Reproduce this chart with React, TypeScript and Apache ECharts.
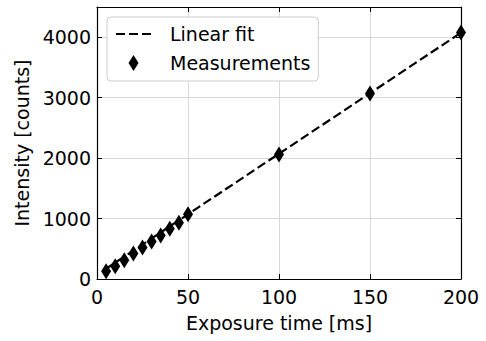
import { useEffect, useRef } from "react";
import * as echarts from "echarts";

const exposureMs = [5, 10, 15, 20, 25, 30, 35, 40, 45, 50, 100, 150, 200];
const intensity = [130, 210, 310, 420, 520, 620, 720, 830, 930, 1070, 2060, 3070, 4080];
const fitX = [5, 200];
const fitY = [170, 4075];
const xMin = 0;
const xMax = 200;
const xStep = 50;
const yMin = 0;
const yMax = 4500;
const yStep = 1000;

const FONT = "DejaVu Sans";

export default function App() {
  const ref = useRef<HTMLDivElement>(null);
  useEffect(() => {
    if (!ref.current) return;
    const chart = echarts.init(ref.current, undefined, { renderer: "svg" });
    const axisLine = { show: true, onZero: false, lineStyle: { color: "#000", width: 1.2 } };
    const tick = { show: true, inside: true, length: 5, lineStyle: { color: "#000", width: 1 } };
    const label = { color: "#000", fontFamily: FONT, fontSize: 19 };
    chart.setOption({
      animation: false,
      backgroundColor: "#fff",
      textStyle: { fontFamily: FONT },
      grid: { left: 97, right: 25, top: 7, bottom: 62, containLabel: false },
      legend: {
        left: 107,
        top: 17,
        orient: "vertical",
        padding: [6, 8, 7, 8],
        itemGap: 7,
        itemWidth: 35,
        itemHeight: 16,
        backgroundColor: "#fff",
        borderColor: "#cccccc",
        borderWidth: 1,
        borderRadius: 4,
        symbolKeepAspect: true,
        textStyle: { color: "#000", fontFamily: FONT, fontSize: 19, lineHeight: 22, padding: [0, 0, 0, 14] },
        data: [
          { name: "Linear fit", itemStyle: { opacity: 0 } },
          { name: "Measurements", icon: "path://M5 0 L10 8 L5 16 L0 8 Z", itemStyle: { color: "#000", opacity: 1 } },
        ],
      },
      xAxis: [
        {
          type: "value",
          min: xMin,
          max: xMax,
          interval: xStep,
          name: "Exposure time [ms]",
          nameLocation: "middle",
          nameGap: 34,
          nameTextStyle: label,
          axisLine,
          axisTick: tick,
          axisLabel: { ...label, margin: 8 },
          splitLine: { show: true, lineStyle: { color: "#d9d9d9", width: 1 } },
        },
        {
          type: "value",
          position: "top",
          min: xMin,
          max: xMax,
          interval: xStep,
          axisLine,
          axisTick: tick,
          axisLabel: { show: false },
          splitLine: { show: false },
        },
      ],
      yAxis: [
        {
          type: "value",
          min: yMin,
          max: yMax,
          interval: yStep,
          name: "Intensity [counts]",
          nameLocation: "middle",
          nameGap: 55,
          nameTextStyle: label,
          axisLine,
          axisTick: tick,
          axisLabel: { ...label, margin: 6, showMaxLabel: false, formatter: (v: number) => String(v) },
          splitLine: { show: true, lineStyle: { color: "#d9d9d9", width: 1 } },
        },
        {
          type: "value",
          position: "right",
          min: yMin,
          max: yMax,
          interval: yStep,
          axisLine,
          axisTick: tick,
          axisLabel: { show: false },
          splitLine: { show: false },
        },
      ],
      series: [
        {
          name: "Linear fit",
          type: "line",
          data: fitX.map((x, i) => [x, fitY[i]]),
          symbol: "none",
          itemStyle: { color: "#000" },
          lineStyle: { color: "#000", width: 2.2, type: [9, 4] },
          z: 2,
        },
        {
          name: "Measurements",
          type: "scatter",
          data: exposureMs.map((x, i) => [x, intensity[i]]),
          symbol: "diamond",
          symbolSize: [10, 16],
          itemStyle: { color: "#000", opacity: 1 },
          z: 3,
        },
      ],
    });
    return () => chart.dispose();
  }, []);
  return (
    <div
      ref={ref}
      style={{ position: "absolute", left: 0, top: 0, width: 486, height: 341 }}
    />
  );
}
